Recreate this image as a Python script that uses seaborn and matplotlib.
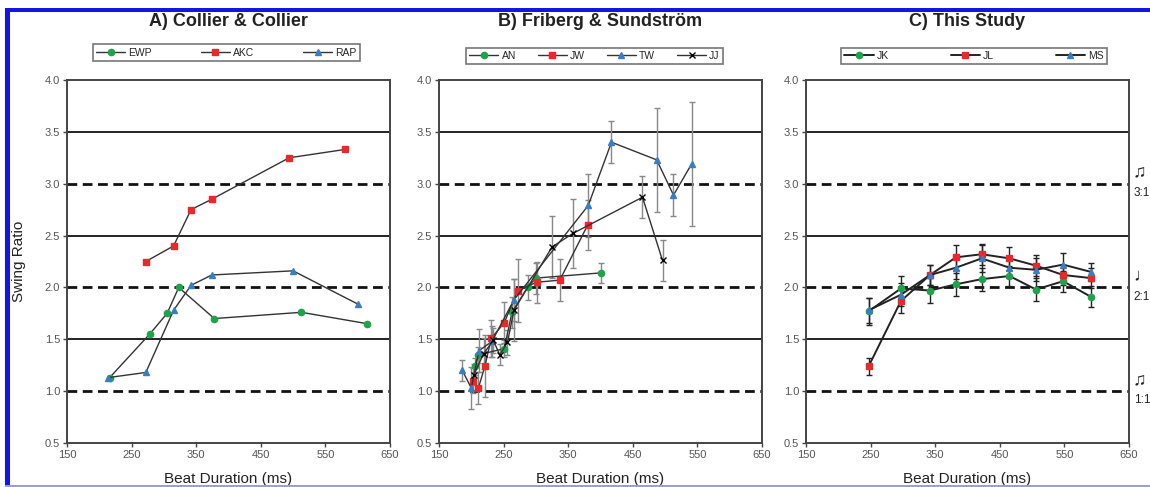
import numpy as np
import pandas as pd
import matplotlib
matplotlib.use("Agg")
import matplotlib.pyplot as plt
from matplotlib.patches import Rectangle
import seaborn as sns

# ---- data ----
# A) Collier & Collier
ewp_x = [216, 278, 305, 323, 378, 513, 615]
ewp_y = [1.13, 1.55, 1.75, 2.00, 1.70, 1.76, 1.65]
akc_x = [272, 315, 342, 374, 494, 580]
akc_y = [2.25, 2.40, 2.75, 2.85, 3.25, 3.33]
rap_x = [213, 272, 315, 342, 374, 500, 600]
rap_y = [1.13, 1.18, 1.78, 2.02, 2.12, 2.16, 1.84]

# B) Friberg & Sundström
an_x = [205, 211, 251, 263, 287, 300, 400]
an_y = [1.24, 1.35, 1.41, 1.76, 2.00, 2.09, 2.14]
an_err = [0.08, 0.08, 0.08, 0.15, 0.12, 0.15, 0.10]
jw_x = [203, 211, 221, 231, 251, 272, 301, 337, 380]
jw_y = [1.10, 1.03, 1.24, 1.51, 1.66, 1.97, 2.05, 2.07, 2.60]
jw_err = [0.12, 0.15, 0.30, 0.18, 0.20, 0.30, 0.20, 0.20, 0.24]
tw_x = [186, 200, 212, 232, 266, 381, 417, 487, 513, 541]
tw_y = [1.20, 1.03, 1.39, 1.48, 1.88, 2.79, 3.40, 3.23, 2.89, 3.19]
tw_err = [0.10, 0.20, 0.21, 0.15, 0.20, 0.30, 0.20, 0.50, 0.20, 0.60]
jj_x = [204, 219, 234, 244, 256, 266, 325, 357, 465, 496]
jj_y = [1.16, 1.36, 1.49, 1.35, 1.47, 1.78, 2.39, 2.52, 2.87, 2.26]
jj_err = [0.10, 0.15, 0.12, 0.10, 0.12, 0.30, 0.30, 0.33, 0.20, 0.20]

# C) This Study
c_x = [247, 297, 342, 382, 422, 465, 506, 548, 591]
jk_y = [1.77, 1.99, 1.97, 2.03, 2.08, 2.11, 1.98, 2.06, 1.91]
jk_err = [0.13, 0.12, 0.12, 0.11, 0.11, 0.10, 0.11, 0.10, 0.10]
jl_y = [1.24, 1.87, 2.12, 2.29, 2.32, 2.28, 2.21, 2.12, 2.09]
jl_err = [0.08, 0.12, 0.10, 0.12, 0.10, 0.11, 0.10, 0.10, 0.10]
ms_y = [1.78, 1.93, 2.12, 2.19, 2.28, 2.19, 2.17, 2.22, 2.15]
ms_err = [0.12, 0.11, 0.10, 0.11, 0.13, 0.10, 0.11, 0.11, 0.09]

titles = ["A) Collier & Collier", "B) Friberg & Sundström", "C) This Study"]
yticks = [0.5, 1.0, 1.5, 2.0, 2.5, 3.0, 3.5, 4.0]
xticks = [150, 250, 350, 450, 550, 650]
ratio_marks = [(3.0, "♫", "3:1"), (2.0, "♩", "2:1"), (1.0, "♫", "1:1")]

GREEN, RED, BLUE = "#1fa34a", "#e8282b", "#3b7dc4"

sns.set_theme(style="white")
plt.rcParams["font.family"] = ["Liberation Sans", "DejaVu Sans"]

fig = plt.figure(figsize=(11.5, 4.87), dpi=100)
W, H = 1150, 487
lefts = [67, 439, 806]
axes = [fig.add_axes([l / W, 44 / H, 323 / W, 363 / H]) for l in lefts]


def series(ax, x, y, marker, mcolor, label, lcolor="#333", lw=1.0, err=None, ecolor="#888"):
    if err is not None:
        ax.errorbar(x, y, yerr=err, fmt="none", ecolor=ecolor, elinewidth=1,
                    capsize=2.5, capthick=1, zorder=2)
    sns.lineplot(x=x, y=y, ax=ax, color=lcolor, lw=lw, marker=marker,
                 markersize=4.5, markerfacecolor=mcolor, markeredgecolor=mcolor,
                 markeredgewidth=1, label=label, errorbar=None, zorder=3)


ax = axes[0]
series(ax, ewp_x, ewp_y, "o", GREEN, "EWP")
series(ax, akc_x, akc_y, "s", RED, "AKC")
series(ax, rap_x, rap_y, "^", BLUE, "RAP")

ax = axes[1]
series(ax, an_x, an_y, "o", GREEN, "AN", err=an_err)
series(ax, jw_x, jw_y, "s", RED, "JW", err=jw_err)
series(ax, tw_x, tw_y, "^", BLUE, "TW", err=tw_err)
series(ax, jj_x, jj_y, "x", "black", "JJ", err=jj_err)

ax = axes[2]
series(ax, c_x, jk_y, "o", GREEN, "JK", lcolor="#222", lw=1.4, err=jk_err, ecolor="#222")
series(ax, c_x, jl_y, "s", RED, "JL", lcolor="#222", lw=1.4, err=jl_err, ecolor="#222")
series(ax, c_x, ms_y, "^", BLUE, "MS", lcolor="#222", lw=1.4, err=ms_err, ecolor="#222")

leg_boxes = [(0.065, 0.858, 1.039), (0.068, 0.827, 1.030), (0.093, 0.854, 1.030)]
for ax, title, (lx, lw_, ly) in zip(axes, titles, leg_boxes):
    ax.set_xlim(150, 650)
    ax.set_ylim(0.5, 4.0)
    ax.set_xticks(xticks)
    ax.set_yticks(yticks)
    ax.set_xticklabels([str(t) for t in xticks])
    ax.set_yticklabels([f"{t:.1f}" for t in yticks])
    ax.tick_params(axis="both", labelsize=8, labelcolor="#555", length=3,
                   width=1, color="#444", direction="out", pad=2,
                   left=True, bottom=True)
    for s in ax.spines.values():
        s.set_color("#444")
        s.set_linewidth(1.4)
    for yv in [1.5, 2.5, 3.5]:
        ax.axhline(yv, color="#111", lw=1.3, zorder=1)
    for yv in [1.0, 2.0, 3.0]:
        ax.axhline(yv, color="#111", lw=2, ls=(0, (3.5, 2)), zorder=1)
    ax.set_xlabel("Beat Duration (ms)", fontsize=11, color="#222")
    ax.xaxis.set_label_coords(0.5, -0.08)
    ax.set_ylabel("")
    leg = ax.legend(loc="lower left", bbox_to_anchor=(lx, ly, lw_, 0.05),
                    mode="expand", ncol=len(ax.get_legend_handles_labels()[1]),
                    fontsize=7.5, frameon=True, fancybox=False, edgecolor="#555",
                    handlelength=2.8, borderpad=0.3, handletextpad=0.3,
                    columnspacing=1.0)
    leg.get_frame().set_linewidth(1.2)
    pos = ax.get_position()
    fig.text(pos.x0 + pos.width / 2, 1 - 26 / H, title, ha="center",
             va="baseline", fontsize=13, fontweight="bold", color="#222")

axes[0].set_ylabel("Swing Ratio", fontsize=11, color="#222")
axes[0].yaxis.set_label_coords(-0.127, 0.5)

# ratio annotations on the right of panel C
axc = axes[2]
trans = axc.get_yaxis_transform()
for yv, note, lab in ratio_marks:
    axc.text(1.012, yv + 0.03, note, transform=trans, ha="left", va="bottom",
             fontsize=13, color="#222", clip_on=False)
    axc.text(1.015, yv - 0.03, lab, transform=trans, ha="left", va="top",
             fontsize=8.5, color="#222", clip_on=False)

# blue frame of the screenshot
fig.add_artist(Rectangle((5 / W, 1 - 12 / H), 1, 4 / H, transform=fig.transFigure,
                         color="#1414e6", lw=0))
fig.add_artist(Rectangle((5 / W, 0), 5 / W, 1 - 8 / H, transform=fig.transFigure,
                         color="#1414e6", lw=0))
fig.add_artist(Rectangle((5 / W, 0), 1, 2 / H, transform=fig.transFigure,
                         color="#9a9af0", lw=0))

fig.savefig("out.png", dpi=100)
